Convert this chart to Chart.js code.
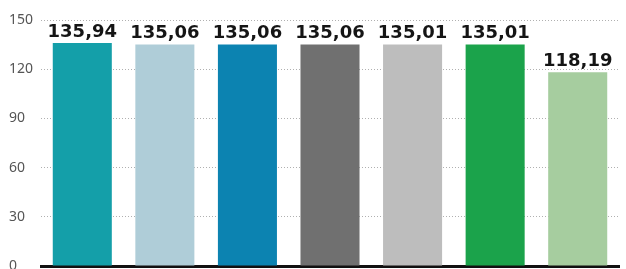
<!DOCTYPE html>
<html>
<head>
<meta charset="utf-8">
<script src="https://cdn.jsdelivr.net/npm/chart.js@4/dist/chart.umd.min.js"></script>
<style>
  html, body { margin: 0; padding: 0; background: #fff; }
  #wrap { width: 626px; height: 269px; }
</style>
</head>
<body>
<div id="wrap"><canvas id="chart"></canvas></div>
<script>
// Datos
const categories = ['A', 'B', 'C', 'D', 'E', 'F', 'G'];
const values = [135.94, 135.06, 135.06, 135.06, 135.01, 135.01, 118.19];
const barColors = ['#149fa9', '#afcdd8', '#0c83b1', '#707070', '#bdbdbd', '#1ba34b', '#a6cd9f'];
const yTicks = [0, 30, 60, 90, 120, 150];

const fmt = v => v.toFixed(2).replace('.', ',');

// Etiquetas encima de cada barra
const valueLabels = {
  id: 'valueLabels',
  afterDatasetsDraw(chart) {
    const ctx = chart.ctx;
    const meta = chart.getDatasetMeta(0);
    ctx.save();
    ctx.font = 'bold 18px "DejaVu Sans"';
    ctx.fillStyle = '#151515';
    ctx.textAlign = 'center';
    ctx.textBaseline = 'bottom';
    meta.data.forEach((bar, i) => {
      ctx.fillText(fmt(values[i]), bar.x, bar.y - 2);
    });
    ctx.restore();
  }
};

new Chart(document.getElementById('chart'), {
  type: 'bar',
  data: {
    labels: categories,
    datasets: [{
      data: values,
      backgroundColor: barColors,
      borderWidth: 0,
      barPercentage: 0.715,
      categoryPercentage: 1,
    }]
  },
  options: {
    responsive: true,
    maintainAspectRatio: false,
    animation: false,
    layout: { padding: { left: 9, right: 7, top: 20, bottom: 3 } },
    plugins: {
      legend: { display: false },
      tooltip: { enabled: false }
    },
    scales: {
      x: {
        afterFit: (scale) => { scale.height = 0; },
        ticks: { display: false },
        grid: { display: false, drawTicks: false },
        border: { display: true, color: '#111', width: 3 }
      },
      y: {
        min: 0,
        max: 150,
        afterBuildTicks: (scale) => { scale.ticks = yTicks.map(v => ({ value: v })); },
        afterFit: (scale) => {
          scale.width = 32;
          scale.paddingTop = 0;
          scale.paddingBottom = 0;
        },
        ticks: {
          crossAlign: 'far',
          color: '#555',
          font: { family: 'Noto Sans', size: 14 },
          padding: 0
        },
        grid: {
          drawTicks: false,
          color: '#b0b0b0',
          lineWidth: 1
        },
        border: { display: false, dash: [1, 2] }
      }
    }
  },
  plugins: [valueLabels]
});
</script>
</body>
</html>
